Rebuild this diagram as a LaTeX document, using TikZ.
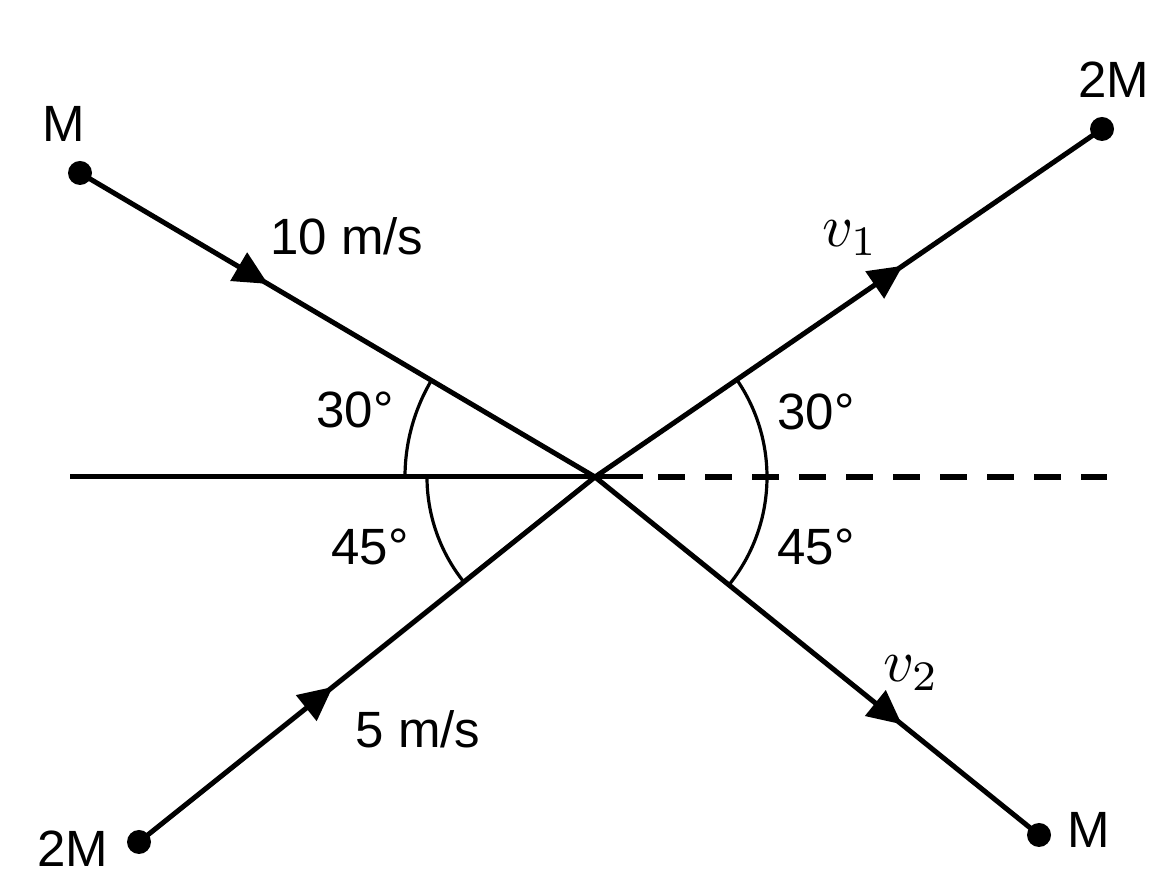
\documentclass[tikz,border=0pt]{standalone}
\usepackage{fontspec}
\setmainfont{Liberation Sans}
\usetikzlibrary{arrows.meta,decorations.markings}
\tikzset{
  mainline/.style={line width=5pt},
  arcline/.style={line width=3.2pt},
  dashline/.style={line width=5.5pt, dash pattern=on 27pt off 20pt},
  dot/.style={circle, fill=black, inner sep=0pt, minimum size=24pt},
  lbl/.style={anchor=base, inner sep=0pt, font=\fontsize{51}{60}\selectfont},
  vlbl/.style={anchor=base, inner sep=0pt, scale=6},
  arrowmark/.style={postaction={decorate}, decoration={markings,
     mark=at position #1 with {\arrow{Triangle[length=34pt,width=32pt]}}}}
}
\begin{document}
\begin{tikzpicture}[x=1pt,y=1pt]
\useasboundingbox (0,0) rectangle (1172,890);
% points
\coordinate (O) at (595,413);
\coordinate (L) at (70,413);
\coordinate (S) at (643,413);
\coordinate (D) at (658,413);
\coordinate (R) at (1107,413);
\node[dot] (m1) at (80,717) {};
\node[dot] (m2) at (1102,761) {};
\node[dot] (m3) at (139,48) {};
\node[dot] (m4) at (1039,55) {};
% horizontal reference line
\draw[mainline] (L) -- (S);
\draw[dashline] (D) -- (R);
% trajectories
\draw[mainline, arrowmark=0.365] (m1.center) -- (O);
\draw[mainline, arrowmark=0.607] (O) -- (m2.center);
\draw[mainline, arrowmark=0.425] (m3.center) -- (O);
\draw[mainline, arrowmark=0.691] (O) -- (m4.center);
% angle arcs
\draw[arcline] ([shift={(180:190pt)}]O) arc[start angle=180, end angle=149.45, radius=190pt];
\draw[arcline] ([shift={(180:168pt)}]O) arc[start angle=180, end angle=218.67, radius=168pt];
\draw[arcline] ([shift={(-38.88:172pt)}]O) arc[start angle=-38.88, end angle=34.46, radius=172pt];
% labels
\node[lbl] (tM1) at (64,748) {M};
\node[lbl] (t10) at (347,635) {10 m/s};
\node[lbl] (tM2) at (1114,792) {2M};
\node[vlbl] (tv1) at (850,643) {$v_1$};
\node[lbl] (ta1) at (355,462) {30°};
\node[lbl] (ta2) at (816,460) {30°};
\node[lbl] (ta3) at (370,325) {45°};
\node[lbl] (ta4) at (816,325) {45°};
\node[vlbl] (tv2) at (911,208) {$v_2$};
\node[lbl] (t5) at (418,142) {5 m/s};
\node[lbl] (tM3) at (73,23) {2M};
\node[lbl] (tM4) at (1089,42) {M};
\end{tikzpicture}
\end{document}
